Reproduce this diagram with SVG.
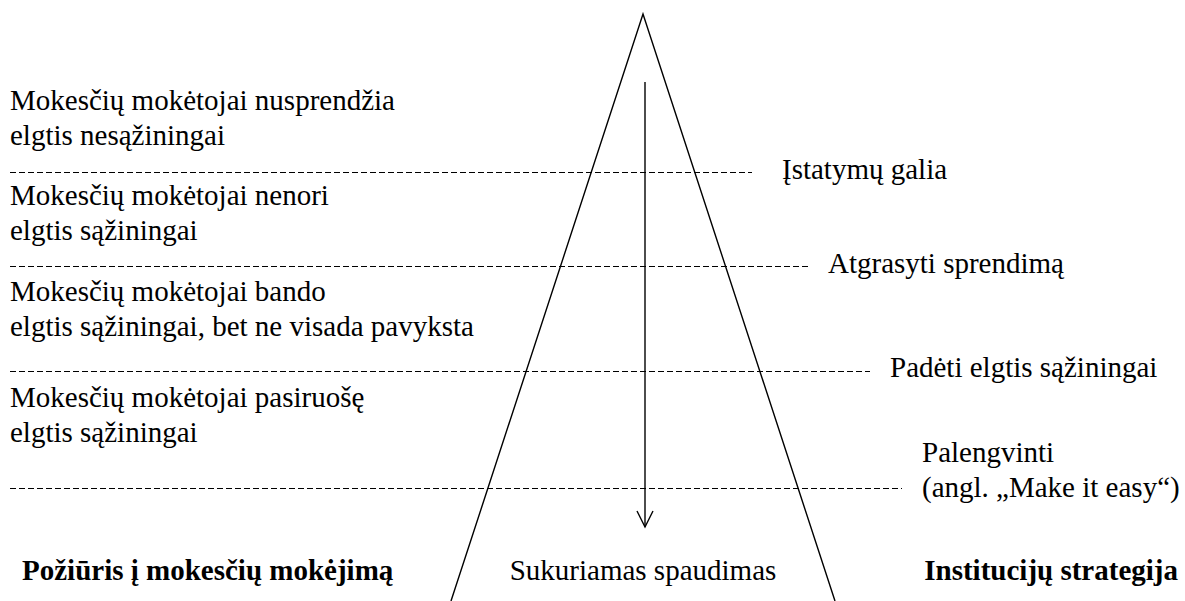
<svg xmlns="http://www.w3.org/2000/svg" width="1185" height="601" viewBox="0 0 1185 601">
<defs>
<style>
.dash{stroke:#000;stroke-width:1;stroke-dasharray:6 3;fill:none}
.ln{stroke:#000;stroke-width:1.4;fill:none}
</style>
</defs>
<rect width="1185" height="601" fill="#fff"/>
<g id="connectors">
<polyline class="ln" points="451,601 643,14 835,601"/>
<line class="ln" x1="645" y1="82" x2="645" y2="527"/>
<polyline class="ln" points="637,511 645,527 653,511"/>
<line class="dash" x1="10" y1="172.5" x2="752" y2="172.5"/>
<line class="dash" x1="10" y1="266.5" x2="808" y2="266.5"/>
<line class="dash" x1="10" y1="371.5" x2="870" y2="371.5"/>
<line class="dash" x1="10" y1="488.5" x2="902" y2="488.5"/>
</g>
<g font-family="Liberation Serif" font-size="29" fill="#000">
<g id="attitude1"><text x="10" y="110">Mokesčių mokėtojai nusprendžia</text><text x="10" y="145">elgtis nesąžiningai</text></g>
<g id="attitude2"><text x="10" y="205">Mokesčių mokėtojai nenori</text><text x="10" y="240">elgtis sąžiningai</text></g>
<g id="attitude3"><text x="10" y="301">Mokesčių mokėtojai bando</text><text x="10" y="336">elgtis sąžiningai, bet ne visada pavyksta</text></g>
<g id="attitude4"><text x="10" y="407">Mokesčių mokėtojai pasiruošę</text><text x="10" y="442">elgtis sąžiningai</text></g>
<g id="strategy1"><text x="782" y="179">Įstatymų galia</text></g>
<g id="strategy2"><text x="828" y="273">Atgrasyti sprendimą</text></g>
<g id="strategy3"><text x="890" y="377">Padėti elgtis sąžiningai</text></g>
<g id="strategy4"><text x="922" y="462">Palengvinti</text><text x="922" y="497">(angl. „Make it easy“)</text></g>
<g id="label-left"><text font-weight="bold" x="22" y="580">Požiūris į mokesčių mokėjimą</text></g>
<g id="label-center"><text x="643" y="580" text-anchor="middle">Sukuriamas spaudimas</text></g>
<g id="label-right"><text font-weight="bold" x="1178" y="580" text-anchor="end">Institucijų strategija</text></g>
</g>
</svg>
